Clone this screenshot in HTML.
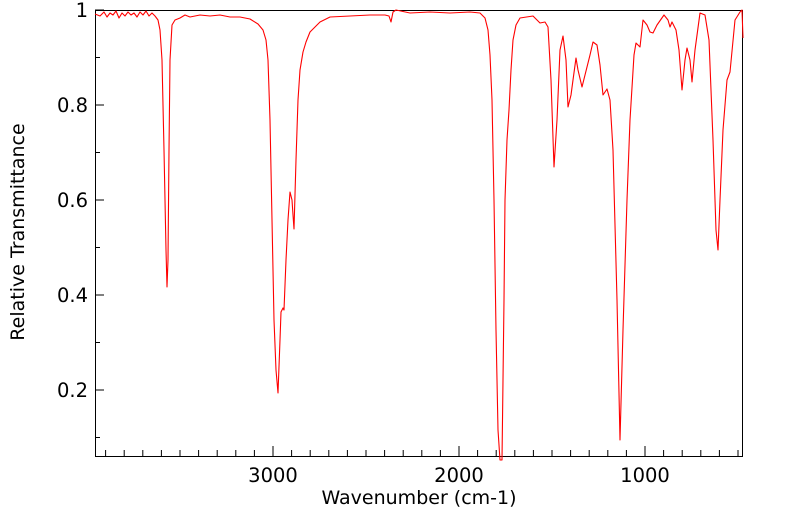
<!DOCTYPE html>
<html><head><meta charset="utf-8"><style>
body{margin:0;background:#fff;}
svg{display:block;font-family:"DejaVu Sans","Liberation Sans",sans-serif;}
</style></head><body>
<svg width="799" height="516" viewBox="0 0 799 516" xmlns="http://www.w3.org/2000/svg">
<rect width="799" height="516" fill="#fff"/>
<g id="ticks" stroke="#000" stroke-width="1" fill="none"></g>
<rect x="95.5" y="10.5" width="647" height="446" fill="none" stroke="#000" stroke-width="1"/>
<polyline fill="none" stroke="#ff0000" stroke-width="1.1" stroke-linejoin="round" points="
95,14 100,16 104,12 107,17 110,13 113,15 116,11 119,18 122,13 125,16 128,12 131,15 134,13 137,17 140,12 143,15 146,11 149,16 152,13 155,16 158,20 160,30 162,60 164,150 166,250 167,287 168,260 169,150 170,60 172,25 175,20 180,18 185,15 190,17 200,15 210,16 220,15 230,17 240,17 250,19 258,24 263,30 266,40 268,60 270,120 272,220 274,320 276,370 278,393 280,340 281,312 283,308 284,310 286,260 288,220 290,192 292,200 293,215 294,229 296,160 298,100 300,70 303,52 306,42 310,32 315,27 320,22 330,17 350,16 370,15 385,15 389,16 391,22 393,12 396,10 410,13 430,12 450,13 470,12 480,13 485,18 488,30 490,55 492,100 494,200 496,330 498,430 500,460 502,460 504,300 505,200 507,140 509,110 511,70 513,40 516,25 520,18 533,16 540,23 545,22 548,27 551,80 554,167 557,120 560,50 563,36 566,60 568,107 571,95 573,80 576,58 578,70 582,87 585,75 590,55 593,42 597,45 600,65 603,95 607,89 610,100 613,150 617,300 620,440 623,330 627,200 630,120 634,55 636,43 640,47 643,20 647,25 650,32 653,33 657,25 664,15 668,20 670,27 672,22 676,30 679,50 682,90 685,60 687,48 690,60 692,82 695,50 700,13 705,15 709,40 713,140 716,230 718,250 720,200 723,130 727,80 730,72 735,20 740,12 742,10 743,38"/>
<g font-size="19.5" fill="#000" text-anchor="end">
<text x="88" y="17">1</text>
<text x="88" y="112">0.8</text>
<text x="88" y="207">0.6</text>
<text x="88" y="302">0.4</text>
<text x="88" y="397">0.2</text>
</g>
<g font-size="19.5" fill="#000" text-anchor="middle">
<text x="273" y="482">3000</text>
<text x="459" y="482">2000</text>
<text x="645" y="482">1000</text>
<text x="419" y="504" font-size="19">Wavenumber (cm-1)</text>
<text transform="translate(24,232) rotate(-90)" font-size="19">Relative Transmittance</text>
</g>
<script>
var g=document.getElementById('ticks'),d='';
for(var w=3900;w>=500;w-=100){var x=273+(3000-w)*0.186;var L=(w%1000==0)?10:6;d+='M'+x.toFixed(1)+' 456V'+(456-L);}
for(var v=0.1;v<=1.0001;v+=0.1){var y=10+(1-v)*475;var L=(Math.round(v*10)%2==0)?9:5;d+='M95 '+y.toFixed(1)+'H'+(95+L);}
var p=document.createElementNS('http://www.w3.org/2000/svg','path');p.setAttribute('d',d);g.appendChild(p);
</script>
</svg>
</body></html>
